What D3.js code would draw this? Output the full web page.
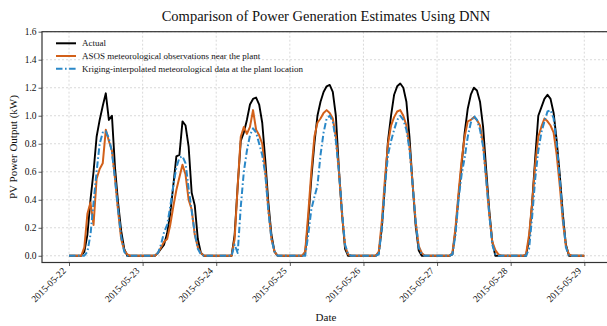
<!DOCTYPE html>
<html>
<head>
<meta charset="utf-8">
<script src="https://cdn.jsdelivr.net/npm/d3@7"></script>
<style>
  html, body { margin: 0; padding: 0; background: #fff; }
  svg { display: block; }
  text { font-family: "Liberation Serif", "Times New Roman", serif; fill: #111; }
</style>
</head>
<body>
<svg id="chart" width="607" height="326"></svg>
<script>
// Hourly PV output, 2015-05-22 00:00 through 2015-05-29 00:00 (one row per day, hours 0-23)
const startTime = "2015-05-22T00:00:00";

const actual = [
  0,0,0,0, 0,0.03,0.15,0.40,0.60,0.85,0.97,1.07,1.16,0.97,1.00,0.63,0.38,0.18,0.05,0, 0,0,0,0,
  0,0,0,0, 0,0.02,0.05,0.08,0.16,0.30,0.50,0.71,0.72,0.96,0.93,0.78,0.45,0.36,0.12,0.02, 0,0,0,0,
  0,0,0,0, 0,0.00,0.15,0.50,0.82,0.88,0.97,1.08,1.12,1.13,1.08,0.95,0.68,0.38,0.15,0.03, 0,0,0,0,
  0,0,0,0, 0,0.02,0.25,0.55,0.80,1.00,1.10,1.17,1.21,1.22,1.17,1.00,0.62,0.30,0.05,0, 0,0,0,0,
  0,0,0,0, 0,0.02,0.20,0.50,0.82,1.00,1.15,1.21,1.23,1.20,1.10,0.85,0.52,0.22,0.04,0, 0,0,0,0,
  0,0,0,0, 0,0.01,0.18,0.42,0.65,0.88,1.05,1.15,1.20,1.18,1.10,0.92,0.62,0.33,0.10,0, 0,0,0,0,
  0,0,0,0, 0,0.00,0.12,0.38,0.70,1.00,1.06,1.12,1.15,1.12,1.02,0.82,0.58,0.30,0.08,0, 0,0,0,0,
  0
];

const asos = [
  0,0,0,0, 0,0.06,0.30,0.38,0.22,0.55,0.62,0.66,0.90,0.82,0.75,0.55,0.32,0.12,0.04,0.01, 0,0,0,0,
  0,0,0,0, 0,0.02,0.06,0.10,0.12,0.22,0.35,0.47,0.56,0.65,0.58,0.40,0.33,0.15,0.06,0.02, 0,0,0,0,
  0,0,0,0, 0,0.00,0.12,0.50,0.85,0.92,0.87,0.92,1.04,0.90,0.86,0.80,0.60,0.33,0.12,0.03, 0,0,0,0,
  0,0,0,0, 0,0.03,0.30,0.60,0.85,0.95,0.98,1.02,1.04,1.02,0.98,0.85,0.60,0.30,0.07,0.01, 0,0,0,0,
  0,0,0,0, 0,0.03,0.25,0.55,0.80,0.93,0.99,1.03,1.04,1.00,0.93,0.78,0.52,0.25,0.07,0.02, 0,0,0,0,
  0,0,0,0, 0,0.02,0.20,0.45,0.68,0.85,0.96,0.97,0.99,0.97,0.93,0.80,0.55,0.30,0.10,0.04, 0.01,0,0,0,
  0,0,0,0, 0,0.01,0.15,0.38,0.65,0.85,0.92,0.98,0.96,0.93,0.88,0.72,0.50,0.25,0.07,0.01, 0,0,0,0,
  0
];

const kriging = [
  0,0,0,0, 0,0.00,0.03,0.15,0.38,0.60,0.80,0.88,0.89,0.84,0.74,0.55,0.33,0.14,0.03,0, 0,0,0,0,
  0,0,0,0, 0,0.02,0.08,0.17,0.22,0.35,0.50,0.63,0.70,0.71,0.66,0.48,0.32,0.16,0.05,0.01, 0,0,0,0,
  0,0,0,0, 0,0.00,0.08,0.02,0.35,0.60,0.75,0.86,0.91,0.88,0.80,0.72,0.58,0.32,0.12,0.03, 0,0,0,0,
  0,0,0,0, 0,0.00,0.15,0.33,0.42,0.50,0.72,0.88,0.98,1.00,0.96,0.82,0.60,0.32,0.08,0.01, 0,0,0,0,
  0,0,0,0, 0,0.01,0.20,0.50,0.72,0.82,0.90,0.97,1.00,0.97,0.90,0.76,0.52,0.25,0.06,0.01, 0,0,0,0,
  0,0,0,0, 0,0.01,0.15,0.40,0.58,0.70,0.85,0.95,1.00,0.97,0.90,0.78,0.55,0.30,0.08,0.01, 0,0,0,0,
  0,0,0,0, 0,0.00,0.05,0.28,0.55,0.75,0.88,0.96,1.03,1.04,0.98,0.80,0.55,0.28,0.06,0, 0,0,0,0,
  0
];

const tickDates = ["2015-05-22","2015-05-23","2015-05-24","2015-05-25",
                   "2015-05-26","2015-05-27","2015-05-28","2015-05-29"];
const yTicks = [0.0, 0.2, 0.4, 0.6, 0.8, 1.0, 1.2, 1.4, 1.6];

const seriesNames = [
  "Actual",
  "ASOS meteorological observations near the plant",
  "Kriging-interpolated meteorological data at the plant location"
];
const seriesColors = ["#000000", "#d2601a", "#2a88c8"];

// ---- layout ----
const frame = { left: 42, right: 611, top: 31.7, bottom: 262.5 };

const svg = d3.select("#chart");
const parseDay = d3.timeParse("%Y-%m-%d");
const t0 = d3.isoParse(startTime);
const times = actual.map((_, i) => d3.timeHour.offset(t0, i));
const tickTimes = tickDates.map(parseDay);

const x = d3.scaleTime()
  .domain([tickTimes[0], tickTimes[tickTimes.length - 1]])
  .range([69, 584.3]);
const y = d3.scaleLinear()
  .domain([-0.048, 1.6])
  .range([frame.bottom, frame.top]);

// grid
const grid = svg.append("g").attr("class", "grid");
grid.selectAll("line.gx").data(tickTimes).join("line")
  .attr("x1", d => x(d)).attr("x2", d => x(d))
  .attr("y1", frame.top).attr("y2", frame.bottom)
  .attr("stroke", "#d0d0d0").attr("stroke-width", 0.8).attr("stroke-dasharray", "2,2");
grid.selectAll("line.gy").data(yTicks).join("line")
  .attr("x1", frame.left).attr("x2", frame.right)
  .attr("y1", d => y(d)).attr("y2", d => y(d))
  .attr("stroke", "#d0d0d0").attr("stroke-width", 0.8).attr("stroke-dasharray", "2,2");

// series
const line = d3.line().x((d, i) => x(times[i])).y(d => y(d));
svg.append("clipPath").attr("id", "plotclip").append("rect")
  .attr("x", frame.left).attr("y", frame.top)
  .attr("width", frame.right - frame.left).attr("height", frame.bottom - frame.top);
const plot = svg.append("g").attr("clip-path", "url(#plotclip)");
const dashes = [null, null, "6.5,2.5,1.6,2.5"];
[actual, asos, kriging].forEach((vals, k) => {
  plot.append("path").datum(vals)
    .attr("d", line)
    .attr("fill", "none")
    .attr("stroke", seriesColors[k])
    .attr("stroke-width", k === 0 ? 1.9 : 2.0)
    .attr("stroke-linejoin", "round")
    .attr("stroke-dasharray", dashes[k]);
});

// axes
const xAxis = d3.axisBottom(x).tickValues(tickTimes)
  .tickFormat(d3.timeFormat("%Y-%m-%d")).tickSize(3.5).tickSizeOuter(0);
const gx = svg.append("g").attr("transform", `translate(0,${frame.bottom})`).call(xAxis);
gx.select(".domain").remove();
gx.selectAll(".tick line").attr("stroke", "#333").attr("stroke-width", 0.8);
gx.selectAll(".tick text")
  .attr("font-size", 9.5)
  .attr("text-anchor", "end")
  .attr("dy", null)
  .attr("y", 0)
  .attr("transform", "translate(-3,9) rotate(-45)");

const yAxis = d3.axisLeft(y).tickValues(yTicks).tickFormat(d3.format(".1f")).tickSize(3.5).tickSizeOuter(0);
const gy = svg.append("g").attr("transform", `translate(${frame.left},0)`).call(yAxis);
gy.select(".domain").remove();
gy.selectAll(".tick line").attr("stroke", "#333").attr("stroke-width", 0.8);
gy.selectAll(".tick text").attr("font-size", 9.5).attr("x", -5.5);

// frame
svg.append("rect")
  .attr("x", frame.left).attr("y", frame.top)
  .attr("width", frame.right - frame.left).attr("height", frame.bottom - frame.top)
  .attr("fill", "none").attr("stroke", "#333").attr("stroke-width", 1.2);

// titles
svg.append("text").attr("x", 326).attr("y", 21)
  .attr("text-anchor", "middle").attr("font-size", 14.5)
  .text("Comparison of Power Generation Estimates Using DNN");
svg.append("text").attr("x", 326).attr("y", 321)
  .attr("text-anchor", "middle").attr("font-size", 11)
  .text("Date");
svg.append("text")
  .attr("transform", `translate(17,${(frame.top + frame.bottom) / 2}) rotate(-90)`)
  .attr("text-anchor", "middle").attr("font-size", 11)
  .text("PV Power Output (kW)");

// legend
const legendY = [43.3, 56, 68.8];
const legend = svg.append("g");
seriesNames.forEach((name, k) => {
  legend.append("line")
    .attr("x1", 56).attr("x2", 76)
    .attr("y1", legendY[k]).attr("y2", legendY[k])
    .attr("stroke", seriesColors[k]).attr("stroke-width", 2)
    .attr("stroke-dasharray", dashes[k]);
  legend.append("text")
    .attr("x", 82).attr("y", legendY[k]).attr("dy", "0.33em")
    .attr("font-size", 9)
    .text(name);
});
</script>
</body>
</html>
